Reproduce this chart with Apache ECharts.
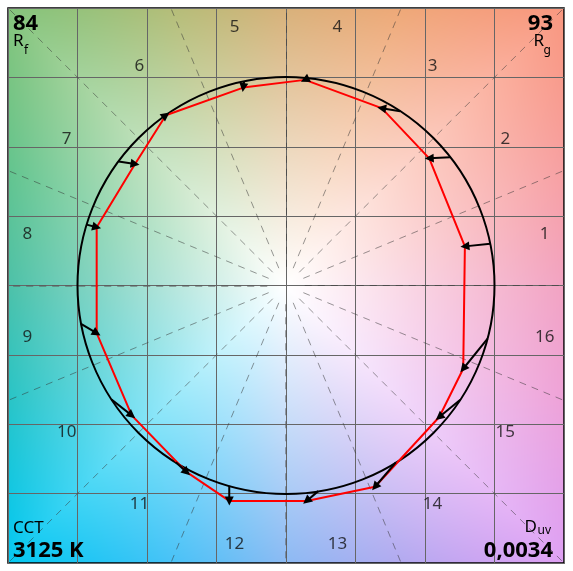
<!DOCTYPE html>
<html><head><meta charset="utf-8">
<script src="https://cdn.jsdelivr.net/npm/echarts@6/dist/echarts.min.js"></script>
<style>
html,body{margin:0;padding:0;background:#fff;}
#wrap{position:relative;width:573px;height:571px;}
#bg{position:absolute;left:8px;top:8px;width:556px;height:555px;}
#chart{position:absolute;left:0;top:0;width:573px;height:571px;}
</style></head><body>
<div id="wrap"><canvas id="bg" width="556" height="555"></canvas><div id="chart"></div></div>
<script>
// ---- data ----
const binLabels = ['1','2','3','4','5','6','7','8','9','10','11','12','13','14','15','16'];
const binCenterAngles = [11.25,33.75,56.25,78.75,101.25,123.75,146.25,168.75,191.25,213.75,236.25,258.75,281.25,303.75,326.25,348.75];
const binEdgeAngles = [0,22.5,45,67.5,90,112.5,135,157.5,180,202.5,225,247.5,270,292.5,315,337.5];
// test-source chromaticity (normalized; reference circle radius = 1)
const testX = [0.858, 0.687, 0.459, 0.091, -0.205, -0.576, -0.724, -0.908, -0.908, -0.740, -0.476, -0.272, 0.099, 0.427, 0.735, 0.850];
const testY = [0.188, 0.611, 0.852, 0.988, 0.951, 0.818, 0.584, 0.280, -0.229, -0.624, -0.897, -1.035, -1.035, -0.967, -0.632, -0.400];
// reference hue angle (deg) of each bin on the unit circle
const refAngle = [11.6, 38.0, 56.8, 84.0, 101.6, 126.3, 143.4, 163.0, 190.6, 213.2, 238.1, 254.2, 278.9, 301.8, 326.7, 345.2];
const hueEdgeColors = ['#f2a3c2','#f7a0a2','#f9977f','#eea877','#d8b17a','#b4bd78','#84c47b','#62c48e','#4cc1a8','#28c4c6','#04c8f1','#48c2f7','#8cbaf3','#b2aaf0','#dea0f3','#eea2d8'];
const Rf = '84', Rg = '93', CCT = '3125 K', Duv = '0,0034';
const S = 3; // axis units per unit radius
const AX = 4;
const FONT = '"Noto Sans", "Open Sans", sans-serif';

// ---- background hue gradient ----
(function(){
  const cv = document.getElementById('bg');
  const ctx = cv.getContext('2d');
  const W = cv.width, H = cv.height;
  const img = ctx.createImageData(W, H);
  const cols = hueEdgeColors.map(h => [parseInt(h.substr(1,2),16), parseInt(h.substr(3,2),16), parseInt(h.substr(5,2),16)]);
  const cx = W/2, cy = H/2 - 0.5;
  for (let y = 0; y < H; y++) {
    for (let x = 0; x < W; x++) {
      const dx = x + 0.5 - cx, dy = cy - (y + 0.5);
      let th = Math.atan2(dy, dx) * 180 / Math.PI; if (th < 0) th += 360;
      const f = th / 22.5; const i0 = Math.floor(f) % 16, i1 = (i0 + 1) % 16, u = f - Math.floor(f);
      const c0 = cols[i0], c1 = cols[i1];
      const r = Math.sqrt(dx*dx + dy*dy);
      const ca = Math.abs(Math.cos(th*Math.PI/180)), sa = Math.abs(Math.sin(th*Math.PI/180));
      const redge = Math.min(ca > 1e-6 ? (W/2)/ca : 1e9, sa > 1e-6 ? (H/2)/sa : 1e9);
      const t = Math.min(1, Math.pow(r / redge, 1.0));
      const k = (y*W + x)*4;
      for (let c = 0; c < 3; c++) {
        const col = c0[c]*(1-u) + c1[c]*u;
        img.data[k+c] = Math.round(255*(1-t) + col*t);
      }
      img.data[k+3] = 255;
    }
  }
  ctx.putImageData(img, 0, 0);
})();

// ---- chart ----
const chart = echarts.init(document.getElementById('chart'), null, {renderer: 'canvas'});
const spokes = binEdgeAngles.map(a => {
  const rad = a*Math.PI/180, c = Math.cos(rad), s = Math.sin(rad);
  const m = AX / Math.max(Math.abs(c), Math.abs(s));
  const r0 = 0.09*S;
  const thick = (a === 180 || a === 270);
  return {coords: [[c*r0, s*r0],[c*m, s*m]], lineStyle: thick ? {width:2, color:'#555'} : undefined};
});
const poly = testX.map((x,i) => [x*S, testY[i]*S]);
poly.push(poly[0]);
const arrows = refAngle.map((a,i) => {
  const rad = a*Math.PI/180;
  return {coords: [[Math.cos(rad)*S, Math.sin(rad)*S], [testX[i]*S, testY[i]*S]]};
});
const labels = binCenterAngles.map((a,i) => {
  const rad = a*Math.PI/180;
  return [Math.cos(rad)*1.265*S, Math.sin(rad)*1.265*S, binLabels[i]];
});
const axisCommon = {type:'value', min:-AX, max:AX, interval:1,
  axisLine:{show:false}, axisTick:{show:false}, axisLabel:{show:false},
  splitLine:{show:true, lineStyle:{color:'#666', width:1}}};

chart.setOption({
  backgroundColor: 'rgba(0,0,0,0)',
  animation: false,
  grid: {left:8, right:9, top:8, bottom:8, show:true, borderColor:'#000', borderWidth:1.5, backgroundColor:'rgba(0,0,0,0)'},
  xAxis: axisCommon,
  yAxis: axisCommon,
  series: [
    {type:'lines', coordinateSystem:'cartesian2d', z:2, silent:true,
     lineStyle:{color:'#333', width:1, type:[7,6]}, symbol:['none','none'], data: spokes},
    {type:'custom', z:3, silent:true, data:[[0,0]],
     renderItem: function(params, api){
       const c = api.coord([0,0]); const e = api.coord([S,0]);
       return {type:'circle', shape:{cx:c[0], cy:c[1], r:e[0]-c[0]}, style:{fill:'none', stroke:'#000', lineWidth:2}};
     }},
    {type:'line', z:4, silent:true, data: poly, symbol:'none', lineStyle:{color:'#ff0000', width:2}},
    {type:'lines', coordinateSystem:'cartesian2d', z:5, silent:true,
     lineStyle:{color:'#000', width:2, opacity:1}, symbol:['none','triangle'], symbolSize:9, data: arrows},
    {type:'scatter', z:6, silent:true, data: labels, symbolSize:1, itemStyle:{color:'rgba(0,0,0,0)'},
     label:{show:true, position:'inside', formatter: p => p.data[2], color:'#111', fontSize:17, fontFamily:FONT}}
  ],
  graphic: [
    {type:'text', z:10, style:{x:13, y:23.5, text:Rf, fill:'#000', font:'bold 22px '+FONT, align:'left', verticalAlign:'middle'}},
    {type:'text', z:10, style:{x:13, y:41, text:'R', fill:'#000', font:'17px '+FONT, align:'left', verticalAlign:'middle'}},
    {type:'text', z:10, style:{x:24, y:51, text:'f', fill:'#000', font:'12px '+FONT, align:'left', verticalAlign:'middle'}},
    {type:'text', z:10, style:{x:553, y:23.5, text:Rg, fill:'#000', font:'bold 22px '+FONT, align:'right', verticalAlign:'middle'}},
    {type:'text', z:10, style:{x:544, y:41, text:'R', fill:'#000', font:'17px '+FONT, align:'right', verticalAlign:'middle'}},
    {type:'text', z:10, style:{x:543.5, y:51, text:'g', fill:'#000', font:'12px '+FONT, align:'left', verticalAlign:'middle'}},
    {type:'text', z:10, style:{x:13, y:528, text:'CCT', fill:'#000', font:'17px '+FONT, align:'left', verticalAlign:'middle'}},
    {type:'text', z:10, style:{x:13, y:550.5, text:CCT, fill:'#000', font:'bold 22px '+FONT, align:'left', verticalAlign:'middle'}},
    {type:'text', z:10, style:{x:537, y:527.5, text:'D', fill:'#000', font:'17px '+FONT, align:'right', verticalAlign:'middle'}},
    {type:'text', z:10, style:{x:537.5, y:531, text:'uv', fill:'#000', font:'12px '+FONT, align:'left', verticalAlign:'middle'}},
    {type:'text', z:10, style:{x:553, y:550.5, text:Duv, fill:'#000', font:'bold 22px '+FONT, align:'right', verticalAlign:'middle'}}
  ]
});
</script></body></html>
